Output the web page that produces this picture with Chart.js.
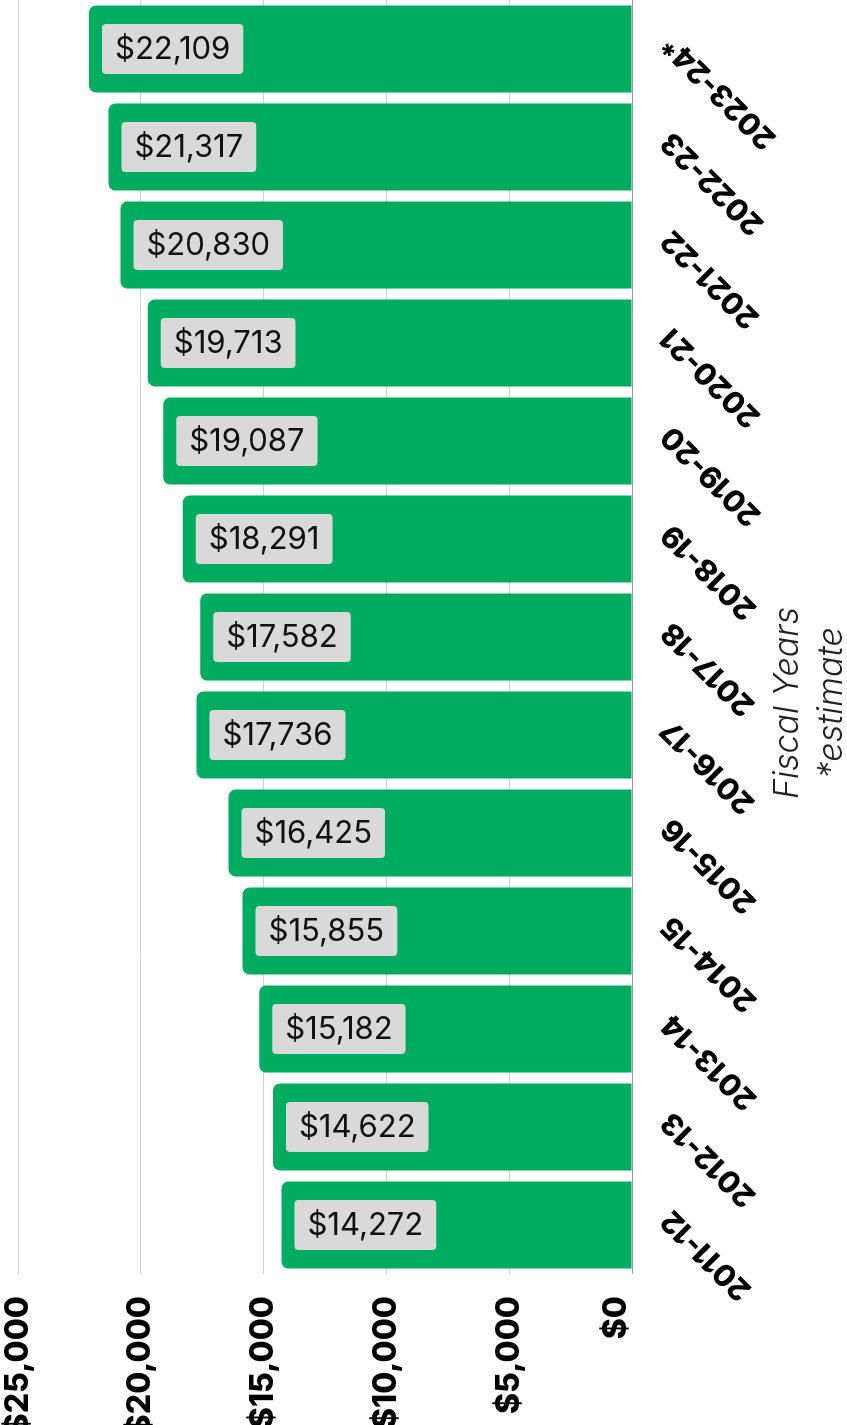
<!DOCTYPE html>
<html>
<head>
<meta charset="utf-8">
<script src="https://cdn.jsdelivr.net/npm/chart.js@4.4.1/dist/chart.umd.min.js"></script>
<style>
  html, body { margin: 0; padding: 0; background: #fff; overflow: hidden; }
  body { width: 847px; height: 1425px; position: relative; }
  /* chart is drawn as a normal column chart, then turned a quarter to the left */
  #wrap {
    position: absolute; left: 0; top: 0; width: 1426px; height: 847px;
    transform-origin: 0 0; transform: translate(0px, 1426px) rotate(-90deg);
  }
</style>
</head>
<body>
<div id="wrap"><canvas id="chart" width="1426" height="847"></canvas></div>
<script>
const fiscalYears = ["2011-12", "2012-13", "2013-14", "2014-15", "2015-16", "2016-17",
  "2017-18", "2018-19", "2019-20", "2020-21", "2021-22", "2022-23", "2023-24*"];
const perPupil = [14272, 14622, 15182, 15855, 16425, 17736,
  17582, 18291, 19087, 19713, 20830, 21317, 22109];
const valueTicks = [0, 5000, 10000, 15000, 20000, 25000];
const axisTitle = ["Fiscal Years", "*estimate"];

const FONT = "Inter, 'Noto Sans', sans-serif";
const money = (v) => "$" + v.toLocaleString("en-US");

// grey boxes with the amount, drawn so they read level after the turn
const valueBoxes = {
  id: "valueBoxes",
  afterDatasetsDraw(chart) {
    const ctx = chart.ctx;
    const bars = chart.getDatasetMeta(0).data;
    ctx.save();
    ctx.font = "400 31px " + FONT;
    bars.forEach((bar, i) => {
      const text = money(perPupil[i]);
      const tw = ctx.measureText(text).width;
      const w = tw + 26, h = 50;
      ctx.save();
      ctx.translate(bar.x, bar.y + 13);
      ctx.rotate(Math.PI / 2);
      ctx.fillStyle = "#d9d9d9";
      ctx.beginPath();
      ctx.roundRect(0, -h / 2, w, h, 4);
      ctx.fill();
      ctx.fillStyle = "#111";
      ctx.textBaseline = "middle";
      ctx.textAlign = "left";
      ctx.fillText(text, 13, 1);
      ctx.restore();
    });
    ctx.restore();
  }
};

// category axis title, set a bit off the centre as in the source
const sideTitle = {
  id: "sideTitle",
  afterDraw(chart) {
    const ctx = chart.ctx;
    const cx = chart.chartArea.left + (chart.chartArea.right - chart.chartArea.left) / 2 - 66;
    ctx.save();
    ctx.font = "italic 300 34px " + FONT;
    ctx.fillStyle = "#222";
    ctx.textAlign = "center";
    ctx.textBaseline = "alphabetic";
    ctx.fillText(axisTitle[0], cx, 798);
    ctx.fillText(axisTitle[1], cx, 842);
    ctx.restore();
  }
};

new Chart(document.getElementById("chart"), {
  type: "bar",
  data: {
    labels: fiscalYears,
    datasets: [{
      data: perPupil,
      backgroundColor: "#00ac5f",
      borderRadius: 7,
      borderSkipped: "start",
      categoryPercentage: 1,
      barPercentage: 0.888
    }]
  },
  options: {
    responsive: false,
    animation: false,
    devicePixelRatio: 1,
    layout: { padding: { top: 18, right: 0, left: 0, bottom: 0 } },
    plugins: { legend: { display: false }, tooltip: { enabled: false } },
    scales: {
      x: {
        grid: { display: false },
        border: { display: true, color: "#9a9a9a", width: 1 },
        ticks: {
          color: "#000",
          font: { family: FONT, size: 30, weight: 800 },
          minRotation: 45,
          maxRotation: 45,
          autoSkip: false,
          labelOffset: 10,
          padding: 14
        },
        afterFit: (s) => { s.height = 215; }
      },
      y: {
        min: valueTicks[0],
        max: valueTicks[valueTicks.length - 1],
        afterBuildTicks: (s) => { s.ticks = valueTicks.map((v) => ({ value: v })); },
        grid: { color: "#d2d2d2", lineWidth: 1, drawTicks: false },
        border: { display: false },
        ticks: {
          color: "#000",
          font: { family: FONT, size: 32, weight: 800, lineHeight: 1 },
          padding: 22,
          // the $0 label sits a little above its line in the source
          callback: (v) => (v === 0 ? [money(v), ""] : money(v))
        },
        afterFit: (s) => { s.width = 152; s.paddingTop = 0; s.paddingBottom = 0; }
      }
    }
  },
  plugins: [valueBoxes, sideTitle]
});
</script>
</body>
</html>
